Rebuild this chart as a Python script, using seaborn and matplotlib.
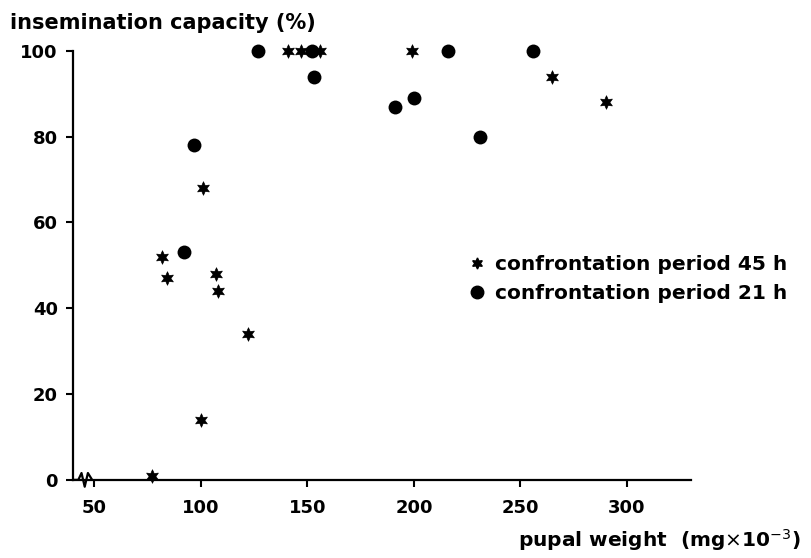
import numpy as np
import pandas as pd
import matplotlib
matplotlib.use("Agg")
import matplotlib.pyplot as plt
import seaborn as sns
from matplotlib.lines import Line2D

# confrontation period 45 h (stars)
weight_45h = [77, 82, 84, 100, 101, 107, 108, 122, 141, 147, 156, 199, 265, 290]
capacity_45h = [1, 52, 47, 14, 68, 48, 44, 34, 100, 100, 100, 100, 94, 88]

# confrontation period 21 h (dots)
weight_21h = [92, 97, 127, 152, 153, 191, 200, 216, 231, 256]
capacity_21h = [53, 78, 100, 100, 94, 87, 89, 100, 80, 100]

x_ticks = [50, 100, 150, 200, 250, 300]
y_ticks = [0, 20, 40, 60, 80, 100]

sns.set_style("ticks")
plt.rcParams["font.family"] = ["DejaVu Sans"]
plt.rcParams.update({"text.color": "black", "xtick.color": "black",
                     "ytick.color": "black", "axes.edgecolor": "black"})

fig = plt.figure(figsize=(8.11, 5.58), dpi=100)
ax = fig.add_axes([0.090, 0.140, 0.762, 0.769])

star = (6, 1, 0)
df45 = pd.DataFrame({"w": weight_45h, "c": capacity_45h})
df21 = pd.DataFrame({"w": weight_21h, "c": capacity_21h})
sns.scatterplot(data=df45, x="w", y="c", marker=star, s=95, color="black",
                edgecolor="black", linewidth=0.5, ax=ax, clip_on=False, zorder=3)
sns.scatterplot(data=df21, x="w", y="c", marker="o", s=100, color="black",
                edgecolor="black", linewidth=0, ax=ax, clip_on=False, zorder=3)

ax.set_xlim(40, 330)
ax.set_ylim(0, 100)
ax.set_xticks(x_ticks)
ax.set_yticks(y_ticks)
ax.tick_params(axis="both", labelsize=13, width=1.5, length=5, direction="out",
               pad=6, colors="black")
ax.tick_params(axis="x", pad=9)
for lab in ax.get_xticklabels() + ax.get_yticklabels():
    lab.set_fontweight("bold")
for side in ["top", "right"]:
    ax.spines[side].set_visible(False)
for side in ["left", "bottom"]:
    ax.spines[side].set_linewidth(1.6)
ax.set_xlabel("")
ax.set_ylabel("")

# axis break near origin
tr = ax.get_xaxis_transform()
ax.plot([40, 42.5, 44, 45.5, 47, 49], [0, 0, 0.016, -0.016, 0.016, 0.0],
        transform=tr, color="black", lw=1.6, clip_on=False, zorder=4)

fig.text(0.012, 0.958, "insemination capacity (%)", fontsize=15,
         fontweight="bold", ha="left", va="center")
fig.text(0.987, 0.032, r"pupal weight  (mg$\times$10$^{-3}$)", fontsize=14.5,
         fontweight="bold", ha="right", va="center")

handles = [
    Line2D([], [], marker=star, color="black", ls="none", markersize=8),
    Line2D([], [], marker="o", color="black", ls="none", markersize=9),
]
ax.legend(handles, ["confrontation period 45 h", "confrontation period 21 h"],
          loc="upper left", bbox_to_anchor=(0.608, 0.567), frameon=False,
          handlelength=1.0, handletextpad=0.4, labelspacing=0.5,
          prop={"size": 14.5, "weight": "bold"})

fig.savefig("out.png", dpi=100)
